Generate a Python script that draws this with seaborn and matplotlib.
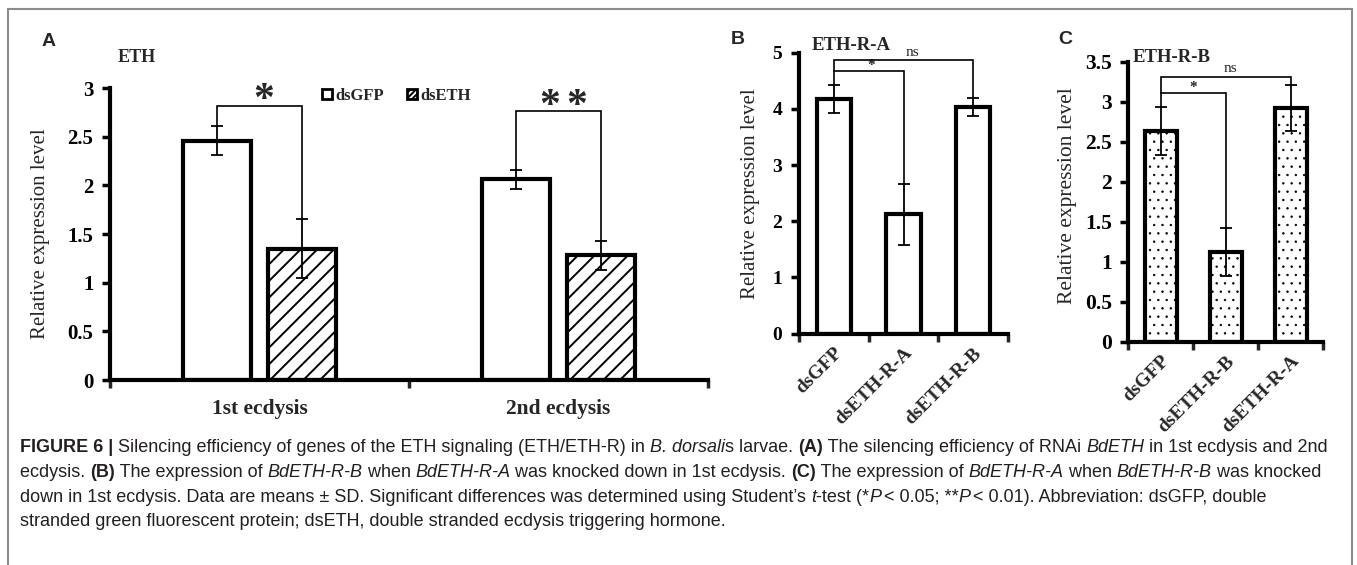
import numpy as np
import pandas as pd
import matplotlib
matplotlib.use('Agg')
import matplotlib.pyplot as plt
import seaborn as sns
from matplotlib.patches import Patch, Rectangle
from matplotlib import font_manager as fm

# ---------------- data ----------------
stages = ['1st ecdysis', '2nd ecdysis']
treatments_a = ['dsGFP', 'dsETH']
a_dsgfp = [2.46, 2.06]
a_dsgfp_sd = [0.15, 0.10]
a_dseth = [1.35, 1.28]
a_dseth_sd = [0.30, 0.15]

b_cats = ['dsGFP', 'dsETH-R-A', 'dsETH-R-B']
b_vals = [4.17, 2.12, 4.04]
b_sd = [0.25, 0.55, 0.16]

c_cats = ['dsGFP', 'dsETH-R-B', 'dsETH-R-A']
c_vals = [2.63, 1.12, 2.92]
c_sd = [0.30, 0.30, 0.29]

# ---------------- style ----------------
sns.set_theme(style='white')
plt.rcParams['font.family'] = ['Liberation Serif', 'DejaVu Serif']
plt.rcParams['hatch.linewidth'] = 1.4
plt.rcParams['hatch.color'] = 'black'

W, H = 1357, 565
fig = plt.figure(figsize=(W / 100, H / 100), dpi=100)


def ax_at(l, r, top, bottom):
    return fig.add_axes([l / W, 1 - bottom / H, (r - l) / W, (bottom - top) / H])


def style_axes(ax, n, ymax, yticks, ticksize):
    for s in ['top', 'right']:
        ax.spines[s].set_visible(False)
    for s in ['left', 'bottom']:
        ax.spines[s].set_linewidth(3)
        ax.spines[s].set_color('black')
    ax.set_ylim(0, ymax)
    ax.set_xlim(-0.5, n - 0.5)
    ax.set_yticks(yticks)
    ax.set_yticklabels([('%g' % v) for v in yticks], fontweight='bold', fontsize=ticksize)
    ax.tick_params(axis='y', left=True, length=6, width=2.5, direction='out', pad=6, colors='black')
    ax.set_xticks(np.arange(-0.5, n), minor=True)
    ax.tick_params(axis='x', which='minor', bottom=True, length=6, width=2.5, direction='out')
    ax.tick_params(axis='x', which='major', bottom=False, length=0, pad=8)
    ax.set_xlabel('')
    ax.set_facecolor('none')


def bracket(ax, x1, x2, y1, y2, yb):
    ax.plot([x1, x1, x2, x2], [y1, yb, yb, y2], color='black', lw=1.2, zorder=6,
            solid_joinstyle='miter')


def add_err(ax, xs, ys, sds):
    ax.errorbar(xs, ys, yerr=sds, fmt='none', ecolor='black', elinewidth=1.3,
                capsize=4, capthick=1.3, zorder=5)


# ---------------- panel A ----------------
axA = ax_at(110, 708, 88, 380)
dfA = pd.DataFrame({
    'stage': stages * 2,
    'treatment': [treatments_a[0]] * 2 + [treatments_a[1]] * 2,
    'value': a_dsgfp + a_dseth,
})
sns.barplot(data=dfA, x='stage', y='value', hue='treatment', hue_order=treatments_a,
            palette=['white', 'white'], edgecolor='black', linewidth=3, width=0.569,
            gap=0.2, errorbar=None, saturation=1, legend=False, ax=axA)
for p in axA.containers[1]:
    p.set_hatch('//')
style_axes(axA, 2, 3, [0, 0.5, 1, 1.5, 2, 2.5, 3], 15)
axA.set_xticks([0, 1])
axA.set_xticklabels(stages, fontweight='bold', fontsize=15.5)
axA.tick_params(axis='x', which='major', pad=14)
axA.set_ylabel('Relative expression level', fontsize=15)
axA.yaxis.set_label_coords(-0.1, 0.5)

xa0 = [p.get_x() + p.get_width() / 2 for p in axA.containers[0]]
xa1 = [p.get_x() + p.get_width() / 2 for p in axA.containers[1]]
add_err(axA, xa0, a_dsgfp, a_dsgfp_sd)
add_err(axA, xa1, a_dseth, a_dseth_sd)
sigA = [1, 2]
brA = [2.82, 2.76]
for i in range(2):
    bracket(axA, xa0[i], xa1[i], a_dsgfp[i] + a_dsgfp_sd[i], a_dseth[i] + a_dseth_sd[i], brA[i])
    mid = (xa0[i] + xa1[i]) / 2 + 0.015
    offs = [0.0] if sigA[i] == 1 else [-0.045, 0.045]
    for o in offs:
        axA.text(mid + o, brA[i] - 0.15, '*', ha='center', va='bottom', fontsize=30,
                 fontweight='bold')

legA = axA.legend(handles=[Patch(facecolor='white', edgecolor='black', lw=2),
                           Patch(facecolor='white', edgecolor='black', lw=2, hatch='//////')],
                  labels=treatments_a, loc='center left', bbox_to_anchor=((322 - 110) / 598, (380 - 96) / 292),
                  ncol=2, frameon=False, borderpad=0, borderaxespad=0, handlelength=0.6,
                  handleheight=0.6, handletextpad=0.2, columnspacing=1.4,
                  prop={'weight': 'bold', 'size': 12, 'family': 'Liberation Serif'})

# ---------------- panel B ----------------
axB = ax_at(799, 1008, 52.7, 333.5)
dfB = pd.DataFrame({'group': b_cats, 'value': b_vals})
sns.barplot(data=dfB, x='group', y='value', color='white', edgecolor='black', linewidth=3,
            width=0.49, errorbar=None, saturation=1, ax=axB)
style_axes(axB, 3, 5, [0, 1, 2, 3, 4, 5], 14)
axB.set_xticks(range(3))
axB.set_xticklabels(b_cats, fontweight='bold', fontsize=14, rotation=45, ha='right',
                    rotation_mode='anchor')
axB.set_ylabel('Relative expression level', fontsize=15)
axB.yaxis.set_label_coords(-0.187, 0.497)
xb = [p.get_x() + p.get_width() / 2 for p in axB.patches]
add_err(axB, xb, b_vals, b_sd)
bracket(axB, xb[0], xb[2], 4.68, b_vals[2] + b_sd[2], 4.87)
bracket(axB, xb[0], xb[1], b_vals[0] + b_sd[0], b_vals[1] + b_sd[1], 4.68)
axB.text(0.54, 4.66, '*', ha='center', va='bottom', fontsize=11, fontweight='bold')
axB.text(1.13, 4.89, 'ns', ha='center', va='bottom', fontsize=11)

# ---------------- panel C ----------------
axC = ax_at(1128.3, 1323.3, 61.5, 341.5)
dfC = pd.DataFrame({'group': c_cats, 'value': c_vals})
sns.barplot(data=dfC, x='group', y='value', color='white', edgecolor='black', linewidth=3,
            width=0.49, errorbar=None, saturation=1, ax=axC)
for p in axC.patches:
    p.set_hatch('..')
    if hasattr(p, 'set_hatch_linewidth'):
        p.set_hatch_linewidth(0.5)
style_axes(axC, 3, 3.5, [0, 0.5, 1, 1.5, 2, 2.5, 3, 3.5], 15.5)
axC.set_xticks(range(3))
axC.set_xticklabels(c_cats, fontweight='bold', fontsize=14, rotation=45, ha='right',
                    rotation_mode='anchor')
axC.set_ylabel('Relative expression level', fontsize=15.5)
axC.yaxis.set_label_coords(-0.265, 0.52)
xc = [p.get_x() + p.get_width() / 2 for p in axC.patches]
add_err(axC, xc, c_vals, c_sd)
bracket(axC, xc[0], xc[2], 3.11, c_vals[2] + c_sd[2], 3.31)
bracket(axC, xc[0], xc[1], c_vals[0] + c_sd[0], c_vals[1] + c_sd[1], 3.11)
axC.text(0.5, 3.09, '*', ha='center', va='bottom', fontsize=11, fontweight='bold')
axC.text(1.07, 3.33, 'ns', ha='center', va='bottom', fontsize=11)

# ---------------- titles / panel letters ----------------
def ftext(x, y, s, **kw):
    return fig.text(x / W, 1 - y / H, s, **kw)

ftext(118, 58, 'ETH', fontsize=13, fontweight='bold', va='center', ha='left')
ftext(812, 45, 'ETH-R-A', fontsize=13.5, fontweight='bold', va='center', ha='left')
ftext(1133, 57, 'ETH-R-B', fontsize=13.5, fontweight='bold', va='center', ha='left')
for x, y, s in [(42, 41, 'A'), (731, 40, 'B'), (1058, 40, 'C')]:
    ftext(x, y, s, fontsize=14, fontweight='bold', va='center', ha='left',
          family=['Liberation Sans', 'DejaVu Sans'])

# ---------------- frame ----------------
fig.patches.append(Rectangle((8 / W, -0.05), (1352 - 8) / W, 1.05 - 9 / H, transform=fig.transFigure,
                             fill=False, edgecolor='#8c8c8c', lw=1.5))

# ---------------- caption ----------------
names = {f.name for f in fm.fontManager.ttflist}
cap_family = ['Liberation Sans Narrow', 'Liberation Sans'] if 'Liberation Sans Narrow' in names \
    else ['Liberation Sans', 'DejaVu Sans']
renderer = fig.canvas.get_renderer()
N, B, I = {}, {'fontweight': 'bold'}, {'fontstyle': 'italic'}
cap_lines = [
    [('FIGURE 6 | ', B), ('Silencing efficiency of genes of the ETH signaling (ETH/ETH-R) in ', N),
     ('B. dorsali', I), ('s larvae. ', N), ('(A)', B), (' The silencing efficiency of RNAi ', N),
     ('BdETH', I), (' in 1st ecdysis and 2nd', N)],
    [('ecdysis. ', N), ('(B)', B), (' The expression of ', N), ('BdETH-R-B', I), (' when ', N),
     ('BdETH-R-A', I), (' was knocked down in 1st ecdysis. ', N), ('(C)', B),
     (' The expression of ', N), ('BdETH-R-A', I), (' when ', N), ('BdETH-R-B', I),
     (' was knocked', N)],
    [('down in 1st ecdysis. Data are means \u00b1 SD. Significant differences was determined using Student\u2019s ', N),
     ('t', I), ('-test (*', N), ('P', I), (' < 0.05; **', N), ('P', I),
     (' < 0.01). Abbreviation: dsGFP, double', N)],
    [('stranded green fluorescent protein; dsETH, double stranded ecdysis triggering hormone.', N)],
]


def pw(s, size, kw):
    t = fig.text(0, 0, '.' + s + '.', fontsize=size, family=cap_family, **kw)
    w1 = t.get_window_extent(renderer).width
    t.set_text('..')
    w2 = t.get_window_extent(renderer).width
    t.remove()
    return w1 - w2


base = 10.0
w_line1 = sum(pw(s, base, kw) for s, kw in cap_lines[0])
cap_size = base * 1315.0 / w_line1
baselines = [452, 477, 502, 526]
for line, yb in zip(cap_lines, baselines):
    x = 20.0
    for s, kw in line:
        ftext(x, yb, s, fontsize=cap_size, family=cap_family, va='baseline', ha='left',
              color='#231f20', **kw)
        x += pw(s, cap_size, kw)

fig.savefig('out.png', dpi=100)
